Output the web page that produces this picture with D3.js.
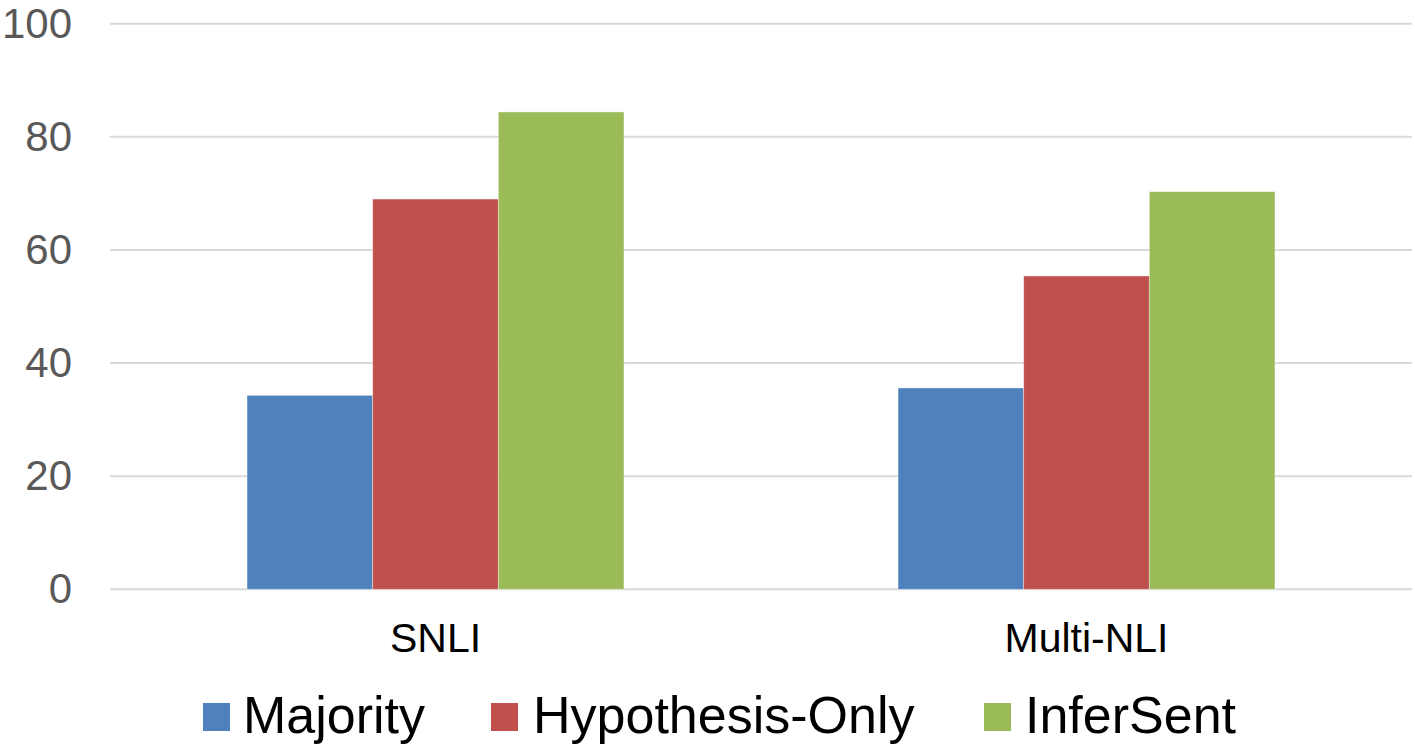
<!DOCTYPE html>
<html>
<head>
<meta charset="utf-8">
<script src="https://cdn.jsdelivr.net/npm/d3@7"></script>
<style>
  html, body { margin: 0; padding: 0; background: #fff; }
  svg { display: block; font-family: "Liberation Sans", Arial, sans-serif; }
</style>
</head>
<body>
<svg id="chart" width="1415" height="744"></svg>
<script>
const categories = ["SNLI", "Multi-NLI"];
const seriesNames = ["Majority", "Hypothesis-Only", "InferSent"];
const majority = [34.3, 35.6];
const hypothesisOnly = [69.0, 55.4];
const inferSent = [84.4, 70.3];
const yTicks = [0, 20, 40, 60, 80, 100];
const colors = ["#4F81BD", "#C0504D", "#9BBB59"];

const seriesValues = [majority, hypothesisOnly, inferSent];

const svg = d3.select("#chart");
const plotLeft = 110, plotRight = 1412, plotTop = 23.7, plotBottom = 589.3;

const x0 = d3.scaleBand().domain(categories).range([plotLeft, plotRight])
  .paddingInner(0.421).paddingOuter(0.2105);
const x1 = d3.scaleBand().domain(seriesNames).range([0, x0.bandwidth()]).padding(0);
const y = d3.scaleLinear().domain([0, 100]).range([plotBottom, plotTop]);

// y axis labels
const yAxis = d3.axisLeft(y).tickValues(yTicks).tickSize(0).tickPadding(38);
const yG = svg.append("g").attr("transform", `translate(${plotLeft},0)`).call(yAxis);
yG.select(".domain").remove();
yG.selectAll("text")
  .attr("fill", "#595959")
  .attr("font-size", "42px")
  .attr("font-family", "Liberation Sans, Arial, sans-serif");

// gridlines
svg.append("g").selectAll("line").data(yTicks).join("line")
  .attr("x1", plotLeft).attr("x2", plotRight)
  .attr("y1", d => y(d)).attr("y2", d => y(d))
  .attr("stroke", "#d9d9d9").attr("stroke-width", 2);

// bars
const groups = svg.append("g").selectAll("g").data(categories).join("g")
  .attr("transform", d => `translate(${x0(d)},0)`);
groups.selectAll("rect")
  .data((c, ci) => seriesNames.map((s, si) => ({ s, si, v: seriesValues[si][ci] })))
  .join("rect")
  .attr("x", d => x1(d.s))
  .attr("width", x1.bandwidth())
  .attr("y", d => y(d.v))
  .attr("height", d => y(0) - y(d.v))
  .attr("fill", d => colors[d.si])
  .attr("stroke", "rgba(255,255,255,0.5)")
  .attr("stroke-width", 0.8);

// x axis labels
const xAxis = d3.axisBottom(x0).tickSize(0).tickPadding(34);
const xG = svg.append("g").attr("transform", `translate(0,${plotBottom})`).call(xAxis);
xG.select(".domain").remove();
xG.selectAll("text")
  .attr("fill", "#000")
  .attr("font-size", "41px")
  .attr("font-family", "Liberation Sans, Arial, sans-serif");

// legend
const legendItems = [
  { name: seriesNames[0], sx: 203, tx: 243 },
  { name: seriesNames[1], sx: 491, tx: 533 },
  { name: seriesNames[2], sx: 984, tx: 1025 }
];
const lg = svg.append("g");
legendItems.forEach((it, i) => {
  lg.append("rect").attr("x", it.sx).attr("y", 703).attr("width", 27).attr("height", 28)
    .attr("fill", colors[i]);
  lg.append("text").attr("x", it.tx).attr("y", 733)
    .attr("font-size", "52px").attr("fill", "#000")
    .text(it.name);
});
</script>
</body>
</html>
